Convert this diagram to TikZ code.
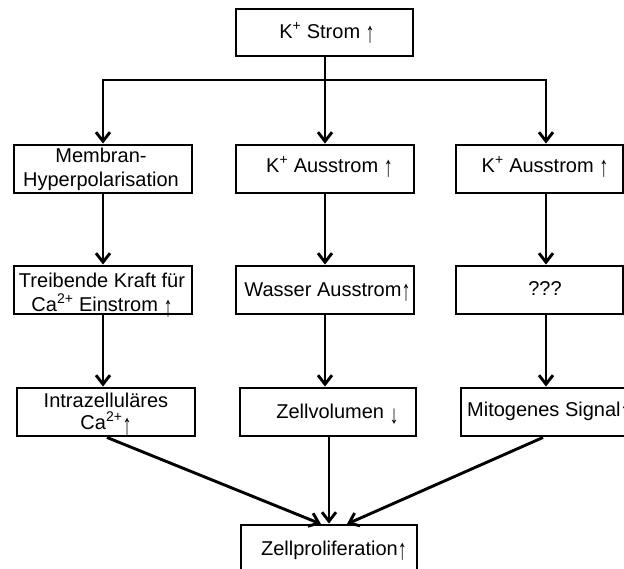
\documentclass[tikz,border=0pt]{standalone}
\usepackage{fontspec}
\usepackage{graphicx}
\setmainfont{Liberation Sans}
\usetikzlibrary{arrows.meta}
% tall, thin arrows as used in the labels
\newcommand\uparr{\raisebox{-0.24em}{\scalebox{0.9}[1.45]{↑}}}
\newcommand\downarr{\raisebox{-0.26em}{\scalebox{0.9}[1.3]{↓}}}
\begin{document}
\begin{tikzpicture}[x=1pt,y=-1pt,
  box/.style={draw, line width=2.9pt, rectangle, inner sep=0pt},
  lbl/.style={anchor=base, inner sep=0pt, font=\fontsize{20}{23}\selectfont},
  link/.style={line width=2.9pt, -{Straight Barb[length=9pt,width=14pt]}}]
\useasboundingbox (0,0) rectangle (624,568);
\clip (0,0) rectangle (624,568);

% boxes
\node[box, minimum width=177pt, minimum height=47pt] (top) at (324.5,32.5) {};
\node[box, minimum width=178pt, minimum height=48pt] (m1) at (103,169) {};
\node[box, minimum width=178pt, minimum height=48pt] (k1) at (325,169) {};
\node[box, minimum width=167pt, minimum height=48pt] (k2) at (539.5,169) {};
\node[box, minimum width=178pt, minimum height=48pt] (t) at (103,290) {};
\node[box, minimum width=178pt, minimum height=48pt] (w) at (325,290) {};
\node[box, minimum width=167pt, minimum height=48pt] (q) at (539.5,290) {};
\node[box, minimum width=178pt, minimum height=48pt] (i) at (106,412) {};
\node[box, minimum width=176pt, minimum height=48pt] (z) at (328,412) {};
\node[box, minimum width=259pt, minimum height=48pt] (s) at (590.5,412) {};
\node[box, minimum width=176pt, minimum height=115pt] (p) at (329,582.5) {};

% labels
\node[lbl] (top-t) at (327,38) {K\textsuperscript{+} Strom \uparr};
\node[lbl] (m1-t) at (101,162) {\begin{tabular}[t]{@{}c@{}}Membran-\\[1pt]Hyperpolarisation\end{tabular}};
\node[lbl] (k1-t) at (329.5,172) {K\textsuperscript{+} Ausstrom \uparr};
\node[lbl] (k2-t) at (545,172) {K\textsuperscript{+} Ausstrom \uparr};
\node[lbl] (t-t) at (102,287) {\begin{tabular}[t]{@{}c@{}}Treibende Kraft für\\Ca\textsuperscript{2+} Einstrom \uparr\end{tabular}};
\node[lbl] (w-t) at (327.5,296) {Wasser Ausstrom\uparr};
\node[lbl] (q-t) at (545,295) {???};
\node[lbl] (i-t) at (106,407) {\begin{tabular}[t]{@{}c@{}}Intrazelluläres\\[-2pt]Ca\textsuperscript{2+}\uparr\end{tabular}};
\node[lbl] (z-t) at (337.5,418) {Zellvolumen \downarr};
\node[lbl, anchor=base west] (s-t) at (467,416) {Mitogenes Signal\uparr};
\node[lbl] (p-t) at (334,555) {Zellproliferation\uparr};

% column positions and branching points
\coordinate (L) at (103,0);
\coordinate (M) at (325,0);
\coordinate (R) at (546,0);
\coordinate (P) at (329,0);
\coordinate (DL) at (107,0);
\coordinate (DR) at (543,0);
\coordinate (busL) at (103,80);
\coordinate (busM) at (325,80);
\coordinate (busR) at (546,80);
\coordinate (pinL) at (321,524);
\coordinate (pinR) at (347,524);

% top split
\draw[link] (top.south -| M) -- (k1.north -| M);
\draw[link] (busM) -- (busL) -- (m1.north -| L);
\draw[link] (busM) -- (busR) -- (k2.north -| R);

% columns
\draw[link] (m1.south -| L) -- (t.north -| L);
\draw[link] (t.south -| L) -- (i.north -| L);
\draw[link] (k1.south -| M) -- (w.north -| M);
\draw[link] (w.south -| M) -- (z.north -| M);
\draw[link] (k2.south -| R) -- (q.north -| R);
\draw[link] (q.south -| R) -- (s.north -| R);

% merge into proliferation
\draw[link] (i.south -| DL) -- (pinL);
\draw[link] (z.south -| P) -- (p.north -| P);
\draw[link] (s.south -| DR) -- (pinR);
\end{tikzpicture}
\end{document}
